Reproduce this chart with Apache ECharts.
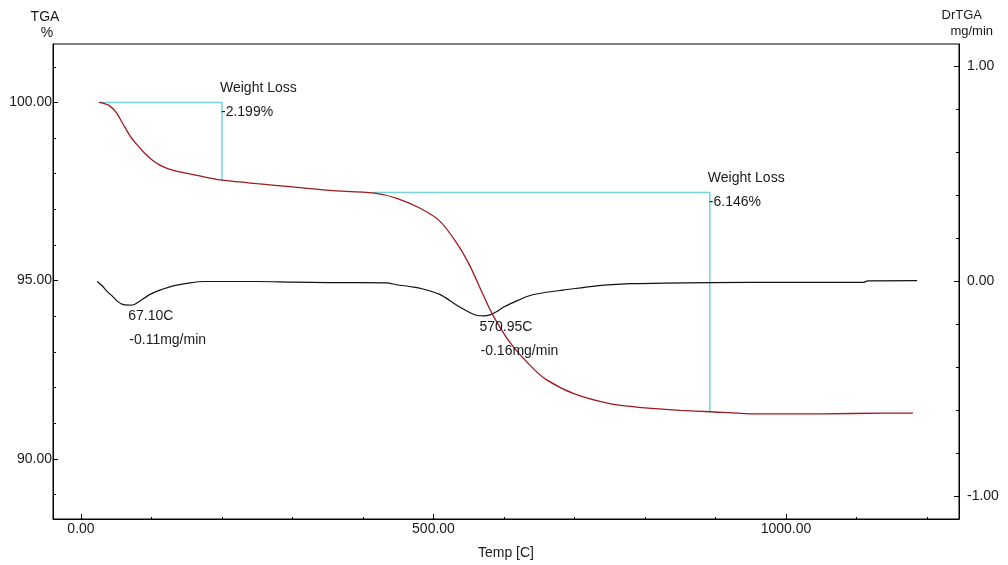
<!DOCTYPE html>
<html>
<head>
<meta charset="utf-8">
<script src="https://cdn.jsdelivr.net/npm/echarts@6/dist/echarts.min.js"></script>
<style>
html,body{margin:0;padding:0;background:#fff;}
#chart{width:1008px;height:565px;}
</style>
</head>
<body>
<div id="chart"></div>
<script>
// ---- data ----
const tgaTemp = [25.5, 30, 40, 50, 60, 70, 80, 90, 100, 112, 125, 140, 155, 170, 185, 200, 250, 300, 353, 414, 448, 481, 509, 533, 552, 570, 584, 609, 637, 660, 700, 750, 800, 850, 892, 953, 1050, 1138, 1180];
const tgaValue = [100.00, 99.985, 99.91, 99.72, 99.38, 99.05, 98.80, 98.58, 98.40, 98.24, 98.13, 98.05, 97.99, 97.93, 97.87, 97.82, 97.72, 97.63, 97.53, 97.46, 97.31, 97.03, 96.67, 96.05, 95.40, 94.62, 94.04, 93.25, 92.62, 92.22, 91.82, 91.55, 91.43, 91.36, 91.32, 91.26, 91.26, 91.28, 91.28];

const dtgTemp = [23, 30, 37, 45, 51, 58, 67, 75, 84, 98, 112, 131, 155, 175, 250, 300, 353, 434, 448, 470, 485, 509, 533, 552, 562, 571, 580, 590, 599, 618, 637, 660, 684, 731, 779, 826, 892, 1000, 1110, 1116, 1186];
const dtgValue = [0.00, -0.02, -0.046, -0.07, -0.09, -0.105, -0.11, -0.108, -0.09, -0.06, -0.04, -0.02, -0.006, 0.0, 0.0, -0.003, -0.005, -0.006, -0.015, -0.025, -0.035, -0.06, -0.11, -0.145, -0.158, -0.16, -0.155, -0.14, -0.12, -0.09, -0.065, -0.05, -0.04, -0.02, -0.01, -0.008, -0.005, -0.004, -0.004, 0.003, 0.004];

// weight-loss steps: start temp, end temp, start %, loss %
const stepStart = [25.5, 414];
const stepEnd = [200, 892];
const stepTop = [100.00, 97.47];
const stepLoss = [2.199, 6.146];

// peaks of DrTGA
const peakTemp = [67.10, 570.95];
const peakValue = [-0.11, -0.16];

// tick labels / ranges
const xMajor = [0, 500, 1000];
const xMinor = [100, 200, 300, 400, 600, 700, 800, 900, 1100, 1200];
const yLeftMajor = [90, 95, 100];
const yLeftMinor = [89, 91, 92, 93, 94, 96, 97, 98, 99, 101];
const yRightMajor = [-1, 0, 1];
const yRightMinor = [-0.8, -0.6, -0.4, -0.2, 0.2, 0.4, 0.6, 0.8];

const FONT = '"Liberation Sans", Arial, sans-serif';
const TXT = '#1a1a1a';

const tgaData = tgaTemp.map((t, i) => [t, tgaValue[i]]);
const dtgData = dtgTemp.map((t, i) => [t, dtgValue[i]]);

const boxSeries = stepStart.map((s, i) => ({
  type: 'line', xAxisIndex: 0, yAxisIndex: 0, showSymbol: false, silent: true,
  lineStyle: { color: '#74d4da', width: 1.5 }, z: 1,
  data: [[s, stepTop[i]], [stepEnd[i], stepTop[i]], [stepEnd[i], +(stepTop[i] - stepLoss[i]).toFixed(3)]]
}));

const xMin = -39.7, xMax = 1245.4;
const yLMin = 88.31, yLMax = 101.64;
const yRMin = -1.105, yRMax = 1.105;

const chart = echarts.init(document.getElementById('chart'), null, { renderer: 'canvas' });

const lineOn = { show: true, onZero: false, lineStyle: { color: '#000', width: 1 } };
const lineOff = { show: false, onZero: false };

const option = {
  animation: false,
  backgroundColor: '#fff',
  textStyle: { fontFamily: FONT },
  grid: { left: 53, right: 49, top: 44, bottom: 41, show: true, borderColor: '#000', borderWidth: 1, backgroundColor: 'transparent' },
  xAxis: [
    {
      type: 'value', min: xMin, max: xMax, position: 'bottom',
      name: 'Temp [C]', nameLocation: 'middle', nameGap: 27,
      nameTextStyle: { fontFamily: FONT, fontSize: 14, color: TXT },
      axisLine: lineOn,
      axisTick: { show: true, inside: true, length: 5, customValues: xMajor, lineStyle: { color: '#000' } },
      axisLabel: { customValues: xMajor, formatter: v => v.toFixed(2), fontFamily: FONT, fontSize: 14, color: TXT, margin: 3 },
      splitLine: { show: false }
    },
    {
      type: 'value', min: xMin, max: xMax, position: 'bottom',
      axisLine: lineOff,
      axisTick: { show: true, inside: true, length: 2, customValues: xMinor, lineStyle: { color: '#000' } },
      axisLabel: { show: false }, splitLine: { show: false }
    }
  ],
  yAxis: [
    {
      type: 'value', min: yLMin, max: yLMax, position: 'left',
      axisLine: lineOn,
      axisTick: { show: true, inside: true, length: 5, customValues: yLeftMajor, lineStyle: { color: '#000' } },
      axisLabel: { customValues: yLeftMajor, formatter: v => v.toFixed(2), fontFamily: FONT, fontSize: 14, color: TXT, margin: 1 },
      splitLine: { show: false }
    },
    {
      type: 'value', min: yLMin, max: yLMax, position: 'left',
      axisLine: lineOff,
      axisTick: { show: true, inside: true, length: 3, customValues: yLeftMinor, lineStyle: { color: '#000' } },
      axisLabel: { show: false }, splitLine: { show: false }
    },
    {
      type: 'value', min: yRMin, max: yRMax, position: 'right',
      axisLine: lineOn,
      axisTick: { show: true, inside: true, length: 5, customValues: yRightMajor, lineStyle: { color: '#000' } },
      axisLabel: { customValues: yRightMajor, formatter: v => v.toFixed(2), fontFamily: FONT, fontSize: 14, color: TXT, margin: 8 },
      splitLine: { show: false }
    },
    {
      type: 'value', min: yRMin, max: yRMax, position: 'right',
      axisLine: lineOff,
      axisTick: { show: true, inside: true, length: 3, customValues: yRightMinor, lineStyle: { color: '#000' } },
      axisLabel: { show: false }, splitLine: { show: false }
    }
  ],
  series: [
    ...boxSeries,
    {
      name: 'DrTGA', type: 'line', xAxisIndex: 0, yAxisIndex: 2, data: dtgData,
      showSymbol: false, smooth: 0.25,
      lineStyle: { color: '#111', width: 1.2 }, z: 3
    },
    {
      name: 'TGA', type: 'line', xAxisIndex: 0, yAxisIndex: 0, data: tgaData,
      showSymbol: false, smooth: 0.25,
      lineStyle: { color: '#9e1a1f', width: 1.3 }, z: 4
    }
  ]
};
chart.setOption(option);

// text annotations positioned from data coordinates
const g = [];
const txt = (x, y, s, opts = {}) => g.push({
  type: 'text', x, y, silent: true, z: 10,
  style: Object.assign({ text: s, fontFamily: FONT, fontSize: 14, fill: TXT, textAlign: 'left', textVerticalAlign: 'middle' }, opts)
});
stepEnd.forEach((t, i) => {
  const p = chart.convertToPixel({ xAxisIndex: 0, yAxisIndex: 0 }, [t, stepTop[i]]);
  txt(p[0] - 2, p[1] - 14, 'Weight Loss');
  txt(p[0] - 1, p[1] + 10, '-' + stepLoss[i].toFixed(3) + '%');
});
peakTemp.forEach((t, i) => {
  const p = chart.convertToPixel({ xAxisIndex: 0, yAxisIndex: 2 }, [t, peakValue[i]]);
  const dx = i === 0 ? 0 : -4;
  txt(p[0] + dx, p[1] + 11, t.toFixed(2) + 'C');
  txt(p[0] + dx + 1, p[1] + 35, peakValue[i].toFixed(2) + 'mg/min');
});
txt(45, 17, 'TGA', { textAlign: 'center' });
txt(47, 33, '%', { textAlign: 'center' });
txt(982, 15, 'DrTGA', { textAlign: 'right', fontSize: 13 });
txt(993, 31, 'mg/min', { textAlign: 'right', fontSize: 13 });
chart.setOption({ graphic: g });
</script>
</body>
</html>
